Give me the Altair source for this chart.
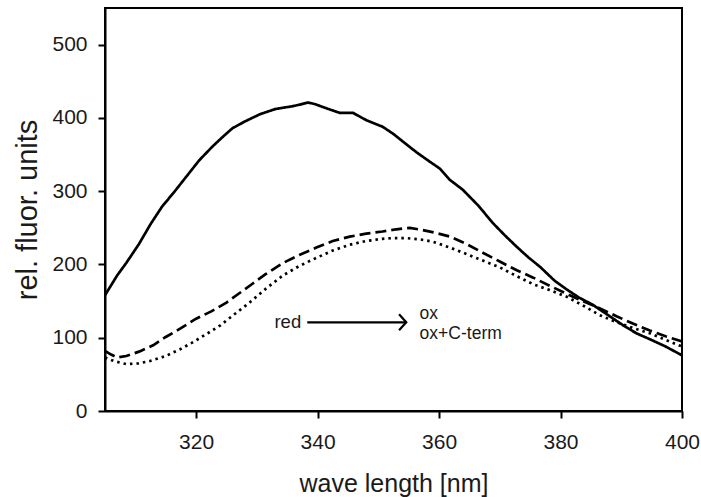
import altair as alt
import pandas as pd

# ---- data ----
red_wl = [305, 307, 308.5, 310.6, 312.5, 314.4, 316.5, 318.4, 320.5, 322.7, 324.5, 326, 328,
          330.5, 333, 335.9, 337, 338.4, 339.5, 341.5, 343.6, 345.8, 348, 350.7, 352.5, 354,
          356.3, 358, 360.1, 361.7, 363.9, 366.5, 368.8, 370.8, 372.8, 374.8, 376.6, 379, 381,
          383, 385.3, 387.8, 390.3, 392.5, 394.7, 397.3, 400]
red_val = [158, 185, 202, 228, 255, 279, 300, 320, 342, 361, 375, 386, 395,
           405, 412, 416, 418, 421, 419, 413, 407, 407, 397, 388, 378, 368,
           353, 343, 331, 316, 302, 280, 257, 240, 224, 209, 197, 178, 166,
           155, 145, 131, 117, 106, 98, 88, 76]

ox_wl = [305, 306, 307, 308.5, 310.6, 313, 315, 317.5, 320, 322.5, 325, 327, 329, 331.5,
         334.3, 337, 339.8, 342.5, 345.3, 348, 350.7, 353, 355.2, 357.3, 359.5, 361.8,
         364.5, 367.2, 370, 372.8, 375.5, 378.2, 381, 383.7, 386.5, 389.3, 392, 394.7,
         397.3, 400]
ox_val = [82, 77, 73, 75, 81, 90, 101, 113, 126, 136, 148, 160, 172, 187,
          202, 213, 223, 232, 238, 242, 245, 248, 250, 247, 243, 238,
          228, 216, 204, 192, 182, 171, 160, 150, 140, 129, 119, 110,
          102, 95]

oxc_wl = [305, 306.5, 308.5, 310.5, 312.3, 315, 317.3, 319.5, 321.7, 324, 326, 328.8,
          331.5, 334.3, 337, 339.8, 342.5, 345.3, 348, 350.7, 352.5, 354.6, 357, 359,
          361.8, 364.6, 367.3, 370, 372.8, 375.5, 378.2, 381, 383.7, 386.4, 389, 392,
          394.7, 397.3, 400]
oxc_val = [73, 68, 64, 65, 68, 75, 84, 94, 105, 117, 130, 148,
           167, 185, 198, 209, 219, 227, 232, 235, 236, 236, 234, 231,
           223, 214, 205, 196, 184, 173, 165, 156, 144, 131, 122, 113,
           106, 97, 88]

series_names = ["red", "ox", "ox+C-term"]
x_ticks = [320, 340, 360, 380, 400]
y_ticks = [0, 100, 200, 300, 400, 500]

# annotation (arrow from "red" to "ox" / "ox+C-term")
arrow_from = 338.3
arrow_to = 354.6
arrow_y = 121
label_red = {"wl": 337.3, "v": 121, "text": "red"}
label_ox = [{"wl": 356.8, "v": 132, "text": "ox"},
            {"wl": 356.8, "v": 105, "text": "ox+C-term"}]

rows = []
for name, wl, vals in zip(series_names, [red_wl, ox_wl, oxc_wl], [red_val, ox_val, oxc_val]):
    for w, v in zip(wl, vals):
        rows.append({"wl": w, "v": v, "series": name})
df = pd.DataFrame(rows)

FONT = "Liberation Sans"

xscale = alt.Scale(domain=[305, 400], nice=False, zero=False)
yscale = alt.Scale(domain=[0, 550], nice=False)

xaxis = alt.Axis(values=x_ticks, title="wave length [nm]", grid=False,
                 labelFontSize=21, titleFontSize=25, labelPadding=13,
                 tickSize=7, tickWidth=2, domainWidth=2, domainColor="black",
                 tickColor="black", labelColor="#1a1a1a", titleColor="#1a1a1a",
                 labelFont=FONT, titleFont=FONT, titleFontWeight="normal",
                 titleBaseline="alphabetic", titleY=80, labelFlush=False)
yaxis = alt.Axis(values=y_ticks, title="rel. fluor. units", grid=False,
                 labelFontSize=21, titleFontSize=29, labelPadding=11,
                 tickSize=7, tickWidth=2, domainWidth=2, domainColor="black",
                 tickColor="black", labelColor="#1a1a1a", titleColor="#1a1a1a",
                 labelFont=FONT, titleFont=FONT, titleFontWeight="normal",
                 titleBaseline="alphabetic", titleX=-69, titleY=201.5,
                 titleAlign="center", titleAngle=270, labelFlush=False)

lines = alt.Chart(df).mark_line(strokeWidth=2.7, color="black", clip=True).encode(
    x=alt.X("wl:Q", scale=xscale, axis=xaxis),
    y=alt.Y("v:Q", scale=yscale, axis=yaxis),
    strokeDash=alt.StrokeDash("series:N",
                              scale=alt.Scale(domain=series_names,
                                              range=[[1, 0], [11, 5], [2.5, 4]]),
                              legend=None),
    detail="series:N",
)

arrow_df = pd.DataFrame([{"x1": arrow_from, "x2": arrow_to, "y": arrow_y}])
arrow_line = alt.Chart(arrow_df).mark_rule(color="black", strokeWidth=2.2).encode(
    x=alt.X("x1:Q", scale=xscale), x2="x2:Q", y=alt.Y("y:Q", scale=yscale))
arrow_head = alt.Chart(arrow_df).mark_point(
    shape="M-0.9,-1L0,0L-0.9,1", filled=False, size=256, color="black",
    strokeWidth=2.2, opacity=1).encode(
    x=alt.X("x2:Q", scale=xscale), y=alt.Y("y:Q", scale=yscale))

red_txt = alt.Chart(pd.DataFrame([label_red])).mark_text(
    align="right", baseline="middle", fontSize=18.5, font=FONT, color="#1a1a1a").encode(
    x=alt.X("wl:Q", scale=xscale), y=alt.Y("v:Q", scale=yscale), text="text:N")
ox_txt = alt.Chart(pd.DataFrame(label_ox)).mark_text(
    align="left", baseline="middle", fontSize=17.5, font=FONT, color="#1a1a1a").encode(
    x=alt.X("wl:Q", scale=xscale), y=alt.Y("v:Q", scale=yscale), text="text:N")

chart = alt.layer(lines, arrow_line, arrow_head, red_txt, ox_txt).properties(
    width=577, height=403,
    autosize=alt.AutoSizeParams(type="none"),
    padding={"left": 105, "top": 8, "right": 19, "bottom": 86},
    background="white",
).configure_view(stroke="black", strokeWidth=2)

chart.save("out.html", embed_options={"renderer": "svg", "actions": False})
